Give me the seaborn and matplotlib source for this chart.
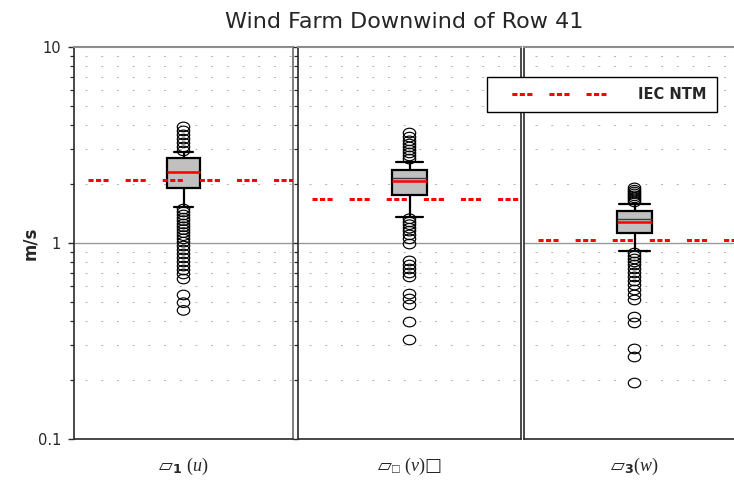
import matplotlib
matplotlib.use("Agg")
import matplotlib.pyplot as plt
from matplotlib.lines import Line2D
from matplotlib.path import Path
from matplotlib.transforms import Affine2D
from matplotlib.ticker import FixedLocator, LogLocator, NullFormatter
import seaborn as sns

# ---------------- data ----------------
title = "Wind Farm Downwind of Row 41"
y_label = "m/s"
legend_label = "IEC NTM"
component_labels = [
    "▱${}_{\\mathbf{1}}$ $(\\mathit{u})$",
    "▱${}_{□}$ $(\\mathit{v})$□",
    "▱${}_{\\mathbf{3}}$$(\\mathit{w})$",
]
y_ticks = [0.1, 1, 10]
y_tick_labels = ["0.1", "1", "10"]

ntm_values = [2.10, 1.68, 1.04]
box_q1 = [1.91, 1.76, 1.12]
box_q3 = [2.70, 2.36, 1.45]
box_median = [2.30, 2.06, 1.28]
box_mean = [2.29, 2.15, 1.32]
whisker_low = [1.52, 1.36, 0.91]
whisker_high = [2.90, 2.58, 1.58]

outliers_u = [3.91, 3.73, 3.56, 3.39, 3.24, 3.09, 2.95,
              1.49, 1.44, 1.39, 1.34, 1.30, 1.25, 1.21, 1.17, 1.13, 1.09,
              1.05, 1.01, 0.965, 0.921, 0.879, 0.839, 0.800, 0.763, 0.728,
              0.695, 0.655, 0.543, 0.496, 0.453]
outliers_v = [3.64, 3.47, 3.32, 3.20, 3.09, 2.98, 2.88, 2.78, 2.68,
              1.33, 1.28, 1.24, 1.19, 1.15, 1.10, 1.05, 0.988,
              0.810, 0.772, 0.737, 0.703, 0.671, 0.549, 0.518, 0.483,
              0.395, 0.320]
outliers_w = [1.91, 1.86, 1.82, 1.78, 1.74, 1.70, 1.66, 1.62,
              0.889, 0.858, 0.829, 0.800, 0.772, 0.737, 0.703, 0.671,
              0.640, 0.610, 0.576, 0.543, 0.512, 0.419, 0.391, 0.288,
              0.262, 0.193]
outliers = [outliers_u, outliers_v, outliers_w]

# ---------------- style ----------------
sns.set_style("white")
plt.rcParams["font.family"] = ["DejaVu Sans"]
plt.rcParams["mathtext.fontset"] = "custom"
plt.rcParams["mathtext.rm"] = "Liberation Serif"
plt.rcParams["mathtext.it"] = "Liberation Serif:italic"
plt.rcParams["mathtext.bf"] = "DejaVu Sans:bold"
plt.rcParams["mathtext.fallback"] = "stix"

W, H = 734, 480
fig = plt.figure(figsize=(W / 100, H / 100), dpi=100)

TOP, BOT = 47, 439
panels_px = [(74, 293), (298, 521), (524, 745)]
cap_widths = [0.09, 0.12, 0.14]

dark = "#2a2a2a"
ntm_lw = 2.16  # ~3 px
ntm_dashes = (1.7, 0.8, 1.7, 0.8, 1.7, 5.67)
ntm_style = (7.7, ntm_dashes)
dot_style = (4.7, (2.0, 13.7))

# slightly wide ellipse marker for the outliers
ellipse = Path.unit_circle().transformed(Affine2D().scale(1.3, 1.0))

for i, (x0, x1) in enumerate(panels_px):
    ax = fig.add_axes([x0 / W, 1 - BOT / H, (x1 - x0) / W, (BOT - TOP) / H])
    ax.set_yscale("log")
    ax.set_ylim(0.1, 10)
    ax.set_xlim(-0.5, 0.5)

    # grids
    ax.yaxis.set_minor_locator(LogLocator(base=10, subs=range(2, 10)))
    ax.yaxis.set_minor_formatter(NullFormatter())
    ax.yaxis.set_major_locator(FixedLocator(y_ticks))
    ax.grid(False)
    ax.yaxis.grid(True, which="minor", color="#b4b4b4", lw=0.72,
                  linestyle=dot_style)
    ax.axhline(1, color="#9a9a9a", lw=1.0, zorder=1)

    stats = [dict(med=box_median[i], q1=box_q1[i], q3=box_q3[i],
                  whislo=whisker_low[i], whishi=whisker_high[i],
                  mean=box_mean[i], fliers=[], label="")]
    ax.bxp(stats, positions=[0], widths=0.155, capwidths=[cap_widths[i]],
           patch_artist=True, showmeans=True, meanline=True, showfliers=False,
           boxprops=dict(facecolor="#c0c0c0", edgecolor="black", lw=1.6),
           whiskerprops=dict(color="black", lw=1.6),
           capprops=dict(color="black", lw=1.6),
           medianprops=dict(color="red", lw=1.8, zorder=3.6),
           meanprops=dict(color="#3a3a3a", lw=1.0, linestyle="-", zorder=3.4),
           zorder=3)

    sns.scatterplot(x=[0] * len(outliers[i]), y=outliers[i], ax=ax,
                    marker=ellipse, s=80, facecolor="none", edgecolor="black",
                    linewidth=0.85, zorder=4, legend=False)

    ax.axhline(ntm_values[i], color="red", lw=ntm_lw, linestyle=ntm_style,
               zorder=5, dash_capstyle="butt")

    ax.set_xticks([0])
    ax.set_xticklabels([component_labels[i]], fontsize=13)
    ax.tick_params(axis="x", length=0, pad=12)
    ax.set_xlabel("")
    ax.set_ylabel("")

    for side in ["left", "bottom", "right"]:
        ax.spines[side].set_color(dark)
        ax.spines[side].set_linewidth(1.2)
    ax.spines["top"].set_color("#8c8c8c")
    ax.spines["top"].set_linewidth(1.5)
    if i == 0:
        ax.spines["right"].set_color("#6a6a6a")
        ax.set_yticklabels(y_tick_labels)
        ax.tick_params(axis="y", which="major", length=4.3, width=1.0,
                       pad=5, labelsize=10.5, direction="out", left=True,
                       color=dark)
        ax.tick_params(axis="y", which="minor", length=3.0, width=0.9,
                       direction="out", left=True, color=dark)
    elif i == 1:
        ax.tick_params(axis="y", which="both", labelleft=False,
                       direction="out", left=True, color=dark)
        ax.tick_params(axis="y", which="major", length=3.3, width=1.0)
        ax.tick_params(axis="y", which="minor", length=3.0, width=0.9)
    else:
        ax.tick_params(axis="y", which="both", labelleft=False, left=False)

fig.text(404 / W, 1 - 28 / H, title, ha="center", va="baseline", fontsize=16)
fig.text(30 / W, 1 - 243 / H, y_label, rotation=90, ha="center", va="center",
         fontsize=12, fontweight="bold")

handle = Line2D([], [], color="red", lw=ntm_lw,
                linestyle=(7.43, ntm_dashes), dash_capstyle="butt")
leg = fig.legend([handle], [legend_label], loc="upper left",
                 bbox_to_anchor=(487 / W, 1 - 77 / H),
                 frameon=True, fancybox=False, framealpha=1,
                 edgecolor="black", borderpad=0.7, handlelength=7.45,
                 handletextpad=2.19, borderaxespad=0,
                 prop=dict(size=10.5, weight="bold"))
leg.get_frame().set_linewidth(1.0)

fig.savefig("out.png", dpi=100)
